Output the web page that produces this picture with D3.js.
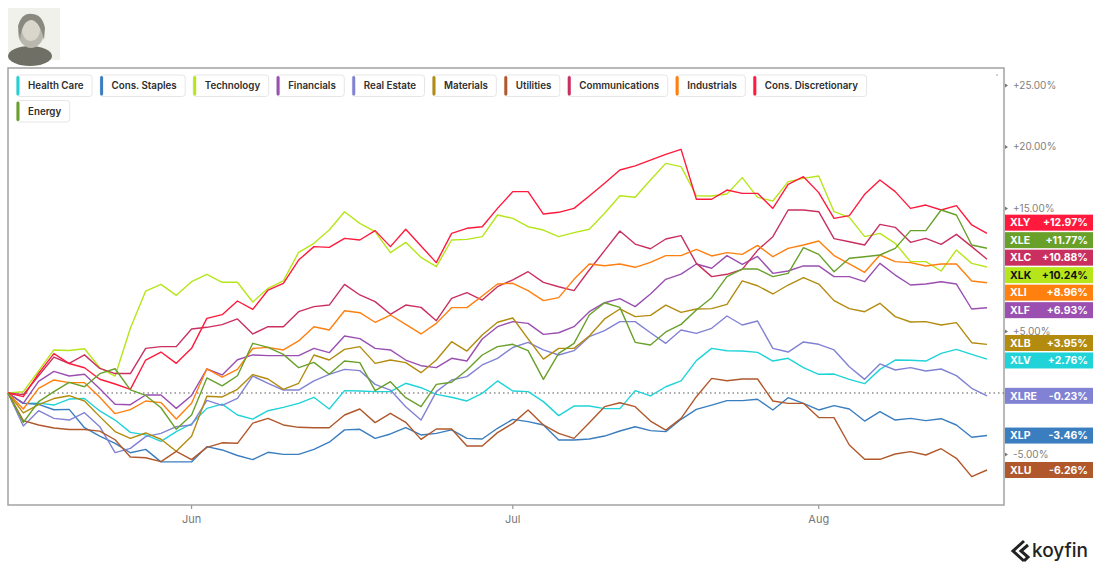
<!DOCTYPE html>
<html><head><meta charset="utf-8">
<script src="https://cdn.jsdelivr.net/npm/d3@7"></script>
<style>
html,body{margin:0;padding:0;background:#fff;}
svg{display:block;font-family:Inter,"Noto Sans",sans-serif;}
</style></head><body>
<svg id="chart" width="1100" height="569"></svg>
<script>
const dates = ["2023-05-15","2023-05-16","2023-05-17","2023-05-18","2023-05-19","2023-05-22","2023-05-23","2023-05-24","2023-05-25","2023-05-26","2023-05-30","2023-05-31",
"2023-06-01","2023-06-02","2023-06-05","2023-06-06","2023-06-07","2023-06-08","2023-06-09","2023-06-12","2023-06-13","2023-06-14","2023-06-15","2023-06-16","2023-06-20","2023-06-21","2023-06-22","2023-06-23","2023-06-26","2023-06-27","2023-06-28","2023-06-29","2023-06-30",
"2023-07-03","2023-07-05","2023-07-06","2023-07-07","2023-07-10","2023-07-11","2023-07-12","2023-07-13","2023-07-14","2023-07-17","2023-07-18","2023-07-19","2023-07-20","2023-07-21","2023-07-24","2023-07-25","2023-07-26","2023-07-27","2023-07-28","2023-07-31",
"2023-08-01","2023-08-02","2023-08-03","2023-08-04","2023-08-07","2023-08-08","2023-08-09","2023-08-10","2023-08-11","2023-08-14","2023-08-15","2023-08-16"];

const sectors = ["Health Care","Cons. Staples","Technology","Financials","Real Estate","Materials","Utilities","Communications","Industrials","Cons. Discretionary","Energy"];
const tickers = ["XLV","XLP","XLK","XLF","XLRE","XLB","XLU","XLC","XLI","XLY","XLE"];
const colors  = ["#1fd3d8","#3a7ebf","#b6e61a","#9a4fb1","#8282d4","#b38b0f","#b0582b","#c9305f","#ff7f0f","#ff1a3d","#68a02a"];

const healthCare = [0,-0.84,-0.82,-0.98,-0.49,-0.45,-1.46,-2.2,-3.2,-3.4,-3.93,-3.14,-2.5,-1.25,-0.9,-1.79,-2.12,
 -1.44,-1.17,-0.84,-0.35,-1.3,0.19,0.16,0.11,0.11,0.79,0.43,-0.11,-0.35,-0.65,-0.03,0.98,0.16,
 0.11,-0.7,-1.84,-1.06,-1.06,-1.27,-1.27,0.19,-0.24,0.51,0.98,2.63,3.63,3.44,3.41,3.3,
 2.6,2.82,2.06,1.52,1.54,1.11,0.76,1.92,2.68,2.66,2.6,3.22,3.55,3.14,2.76];
const consStaples = [0,-0.84,-0.92,-1.36,-1.33,-2.82,-3.5,-4.09,-4.86,-4.58,-5.6,-5.6,-5.6,-4.36,-4.63,-5.08,-5.42,
 -4.82,-4.99,-4.99,-4.58,-4.0,-3.0,-2.95,-3.69,-3.33,-2.82,-3.41,-3.28,-3.0,-3.69,-3.74,-2.87,-2.14,
 -2.33,-2.6,-3.82,-3.82,-3.74,-3.5,-3.09,-2.74,-3.06,-3.14,-2.14,-1.33,-0.98,-0.62,-0.62,-0.51,
 -1.38,-0.38,-0.84,-1.38,-1.03,-1.3,-2.28,-1.52,-2.2,-2.06,-2.25,-2.09,-2.6,-3.6,-3.46];
const technology = [0,0.1,1.8,3.5,3.45,3.6,2.05,1.38,5.27,8.29,8.83,7.94,9.05,9.65,9.0,9.0,7.4,
 8.51,9.11,11.44,12.17,13.25,14.74,13.79,13.12,11.41,12.25,11.03,10.27,12.44,12.49,12.71,14.47,14.2,
 13.52,13.25,12.71,13.04,13.31,14.61,16.04,15.91,17.32,18.67,18.4,16.04,16.02,16.18,17.51,15.91,
 15.61,17.18,17.45,17.64,14.74,14.28,12.71,12.98,12.17,10.68,10.68,9.92,11.63,10.54,10.24];
const financials = [0,-0.84,0.95,1.76,1.38,1.53,0.34,-0.92,-0.95,-0.16,-0.16,-1.25,-0.2,1.95,1.47,2.7,3.1,
 3.04,3.04,3.04,3.63,3.28,4.63,4.42,3.63,3.5,2.68,2.22,2.06,2.82,2.6,4.39,5.39,5.8,
 5.66,4.77,4.9,5.39,6.61,7.34,7.67,7.02,8.05,9.24,9.67,10.49,10.14,11.17,10.46,11.1,
 9.73,9.92,10.33,10.33,9.46,9.46,9.05,10.54,9.59,8.78,8.86,9.05,8.86,6.83,6.93];
const realEstate = [0,-2.68,-1.44,-2.06,-2.2,-1.6,-2.74,-4.85,-4.5,-3.55,-3.28,-2.74,-2.6,-0.6,-1.0,-0.43,1.38,
 0.79,0.24,0.24,0.98,1.52,1.92,1.82,0.7,0.24,-1.11,-2.2,0.11,1.06,1.33,2.28,2.82,3.7,
 4.12,3.5,3.09,3.44,4.58,5.07,5.8,5.8,4.9,4.04,5.12,4.85,5.26,6.26,5.53,5.85,
 3.63,3.33,4.15,3.96,3.5,2.14,1.11,2.36,1.87,2.06,1.79,1.95,1.41,0.38,-0.23];
const materials = [0,-1.62,-0.95,-0.45,-0.22,-0.65,-1.92,-3.14,-3.69,-3.25,-3.76,-4.74,-3.52,-0.27,-0.32,0.3,1.5,
 1.14,0.3,0.79,3.09,2.68,3.55,3.77,2.41,2.68,2.47,1.65,2.68,4.17,3.41,4.72,5.75,6.1,
 4.4,2.76,3.63,3.63,4.63,6.02,6.83,6.21,6.31,7.15,6.56,6.83,6.86,7.21,9.11,8.72,
 8.05,8.78,9.38,8.86,7.51,6.86,6.61,7.29,6.21,5.77,5.8,5.53,5.72,4.09,3.95];
const utilities = [0,-2.25,-2.6,-2.85,-2.97,-2.97,-3.1,-3.8,-5.2,-5.26,-5.58,-4.75,-5.42,-4.42,-4.05,-4.09,-2.45,
 -2.06,-2.6,-2.79,-2.82,-2.82,-1.79,-1.3,-2.41,-1.65,-2.38,-3.77,-2.93,-2.93,-4.31,-4.31,-3.22,-2.47,
 -1.38,-2.6,-3.28,-3.69,-2.41,-1.11,-0.79,-1.11,-2.28,-3.01,-2.06,-0.3,1.19,1.0,1.14,1.14,
 -0.65,-0.84,-0.84,-2.0,-2.0,-4.23,-5.39,-5.39,-4.96,-4.77,-5.04,-4.53,-5.31,-6.8,-6.26];
const communications = [0,-0.13,1.4,2.92,2.4,3.1,2.0,1.58,1.58,3.63,3.77,3.77,5.2,5.34,5.56,6.02,4.8,
 5.39,5.39,6.61,7.02,7.15,8.83,7.97,7.43,6.4,7.15,6.96,5.88,7.7,8.16,7.56,8.64,9.2,
 9.86,9.0,8.64,8.32,10.0,11.57,13.17,12.11,11.73,12.52,12.79,10.54,9.46,9.65,10.05,11.6,
 12.71,14.88,14.88,14.74,12.55,12.3,12.03,13.71,13.47,12.25,12.57,12.09,12.9,11.9,10.88];
const industrials = [0,-1.3,0.38,1.06,0.84,0.84,-0.35,-1.68,-1.35,-0.65,-0.78,-2.11,-0.84,1.97,1.3,1.92,3.62,
 3.71,3.5,4.23,5.39,5.12,6.69,6.53,5.75,6.34,5.58,4.8,5.66,6.94,6.94,7.89,8.86,8.92,
 8.32,7.51,7.75,9.24,10.49,10.35,10.49,10.22,10.62,11.17,11.17,11.68,11.14,11.41,11.27,12.0,
 11.08,11.76,12.03,12.36,11.17,10.49,9.81,11.22,10.68,10.6,10.33,10.49,10.49,9.11,8.96];
const consDiscretionary = [0,-0.3,1.6,3.2,2.4,2.05,1.12,0.73,0.3,2.68,3.33,2.41,3.63,6.07,6.37,7.48,6.8,
 8.37,8.92,10.81,11.9,11.84,12.57,12.44,13.2,11.9,13.31,11.95,10.6,12.98,13.39,13.52,15.01,16.37,
 16.37,14.55,14.69,15.01,16.02,17.05,18.13,18.46,18.94,19.4,19.81,15.75,15.75,16.5,16.23,16.23,
 15.01,16.96,17.59,16.29,14.2,14.42,16.15,17.32,16.37,15.01,15.28,14.88,15.23,13.66,12.97];
const energy = [0,-2.4,-0.7,0.11,0.87,0.51,1.57,1.97,0.25,-0.2,-1.2,-2.95,-1.79,1.22,0.58,1.4,4.04,
 3.71,3.14,2.06,2.49,1.52,2.6,2.47,0.19,0.92,-0.38,-1.11,0.7,0.87,1.87,3.09,3.77,3.96,
 3.44,1.11,3.22,4.04,6.34,7.34,6.96,4.12,3.9,4.96,5.58,6.75,7.75,9.46,10.08,10.08,
 9.46,9.73,11.82,11.27,9.86,10.95,11.08,11.22,11.76,13.2,13.2,14.88,14.47,12.03,11.77];

const seriesValues = [healthCare,consStaples,technology,financials,realEstate,materials,utilities,communications,industrials,consDiscretionary,energy];
const yTickValues = [25,20,15,5,-5];

const parse = d3.timeParse("%Y-%m-%d");
const svg = d3.select("#chart");

const plot = {left:8, right:1004, top:68, bottom:505};
const x = d3.scalePoint().domain(dates).range([8, 987]);
const y = d3.scaleLinear().domain([-5, 25]).range([454.5, 85.5]);

// Logo placeholder (portrait)
const logo = svg.append("g");
logo.append("rect").attr("x",8).attr("y",8).attr("width",52).attr("height",52).attr("fill","#f1f1ec");
logo.append("ellipse").attr("cx",30).attr("cy",56).attr("rx",22).attr("ry",10).attr("fill","#6f6f66");
logo.append("ellipse").attr("cx",31).attr("cy",32).attr("rx",13).attr("ry",16).attr("fill","#b9b8ae");
logo.append("ellipse").attr("cx",31).attr("cy",30).attr("rx",9).attr("ry",11).attr("fill","#d9d7cc");
logo.append("path").attr("d","M18,26 Q22,12 32,14 Q42,14 45,28 L44,40 Q40,22 32,20 Q22,20 20,40 Z").attr("fill","#8a897f");

// Plot frame
svg.append("rect").attr("x",plot.left).attr("y",plot.top)
  .attr("width",plot.right-plot.left).attr("height",plot.bottom-plot.top)
  .attr("fill","none").attr("stroke","#a3a3a3").attr("stroke-width",1.5);
svg.append("circle").attr("cx",997).attr("cy",75).attr("r",0.8).attr("fill","#999");

// zero line
svg.append("line").attr("x1",plot.left).attr("x2",plot.right)
  .attr("y1",y(0)).attr("y2",y(0))
  .attr("stroke","#555").attr("stroke-width",1).attr("stroke-dasharray","1.5,3");

// lines
const line = d3.line().x((d,i)=>x(dates[i])).y(d=>y(d));
const gLines = svg.append("g");
seriesValues.forEach((vals,k)=>{
  gLines.append("path").datum(vals).attr("d",line)
    .attr("fill","none").attr("stroke",colors[k]).attr("stroke-width",1.4)
    .attr("stroke-linejoin","round");
});

// x axis month ticks
const monthStarts = dates.filter((d,i)=> i>0 && d.slice(5,7)!==dates[i-1].slice(5,7));
const xAxis = svg.append("g");
monthStarts.forEach(d=>{
  xAxis.append("line").attr("x1",x(d)).attr("x2",x(d)).attr("y1",plot.bottom).attr("y2",plot.bottom+4)
    .attr("stroke","#999").attr("stroke-width",1.2);
  xAxis.append("text").attr("x",x(d)).attr("y",plot.bottom+14).attr("dy","0.35em").attr("text-anchor","middle")
    .attr("font-size",11).attr("fill","#777").text(d3.timeFormat("%b")(parse(d)));
});

// right axis labels
const fmt = v => (v>0?"+":"") + v.toFixed(2) + "%";
const yAxis = svg.append("g");
yTickValues.forEach(v=>{
  yAxis.append("path").attr("d",`M${plot.right+1},${y(v)-2} L${plot.right+4},${y(v)} L${plot.right+1},${y(v)+2}Z`).attr("fill","#777");
  yAxis.append("text").attr("x",1013).attr("y",y(v)).attr("dy","0.3em")
    .attr("font-size",10).attr("fill","#808080").text(fmt(v));
});

// badges with collision resolution
const H = 17.5;
const items = seriesValues.map((vals,k)=>({ticker:tickers[k], value:vals[vals.length-1], color:colors[k], ideal:y(vals[vals.length-1])}))
  .sort((a,b)=>a.ideal-b.ideal);
let groups = items.map(d=>({members:[d], top:d.ideal-H/2}));
let changed = true;
while(changed){
  changed=false;
  for(let i=0;i<groups.length-1;i++){
    const g=groups[i], h=groups[i+1];
    if(g.top + g.members.length*H > h.top){
      const members=g.members.concat(h.members);
      const mean=d3.mean(members,m=>m.ideal);
      groups.splice(i,2,{members, top:mean-members.length*H/2});
      changed=true; break;
    }
  }
}
const gB = svg.append("g");
groups.forEach(g=>g.members.forEach((m,j)=>{
  const cy = g.top + j*H + H/2;
  const dark = m.ticker==="XLK";
  gB.append("rect").attr("x",1005).attr("y",cy-8).attr("width",88).attr("height",16)
    .attr("fill",m.color);
  gB.append("text").attr("x",1010).attr("y",cy).attr("dy","0.36em").attr("font-size",10.5)
    .attr("font-weight",700).attr("fill",dark?"#111":"#fff").text(m.ticker);
  gB.append("text").attr("x",1088).attr("y",cy).attr("dy","0.36em").attr("font-size",10.5)
    .attr("text-anchor","end").attr("font-weight",700).attr("fill",dark?"#111":"#fff").text(fmt(m.value));
}));

// legend
const gL = svg.append("g");
// size the legend font so "Health Care" spans ~55.7px as in the reference
const probe = gL.append("text").attr("font-size",10).attr("font-weight",600).text(sectors[0]);
const legendFont = 10 * 55.7 / probe.node().getComputedTextLength();
probe.remove();
let lx = 16.5, ly = 75;
const boxH = 21.5, maxRight = 880;
sectors.forEach((name,k)=>{
  const g = gL.append("g");
  const t = g.append("text").attr("font-size",legendFont).attr("font-weight",600)
    .attr("fill","#2e2e2e").text(name);
  const w = t.node().getComputedTextLength() + 20;
  if(lx + w > maxRight){ lx = 16.5; ly += boxH + 4; }
  g.insert("rect","text").attr("x",lx).attr("y",ly).attr("width",w).attr("height",boxH).attr("rx",3)
    .attr("fill","#fff").attr("stroke","#e6e6e6");
  g.append("rect").attr("x",lx).attr("y",ly+1).attr("width",3).attr("height",boxH-2).attr("rx",1.5).attr("fill",colors[k]);
  t.attr("x",lx+11.5).attr("y",ly+boxH/2).attr("dy","0.36em");
  lx += w + 8;
});

// koyfin brand
const gK = svg.append("g");
gK.append("path").attr("d","M1024,541 L1013,551 L1024,561 M1028,545 L1021,551 L1028,557 L1024,561")
  .attr("fill","none").attr("stroke","#222").attr("stroke-width",3).attr("stroke-linejoin","miter");
gK.append("text").attr("x",1032).attr("y",557).attr("font-size",19).attr("font-weight",500)
  .attr("fill","#222").text("koyfin");
</script>
</body></html>
